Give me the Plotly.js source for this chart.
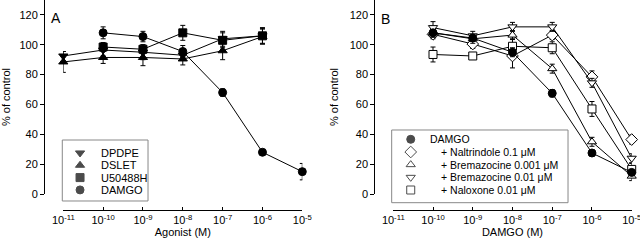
<!DOCTYPE html>
<html>
<head>
<meta charset="utf-8">
<script src="https://cdn.plot.ly/plotly-3.0.1.min.js"></script>
<style>html,body{margin:0;padding:0;background:#fff}#chart{width:640px;height:246px}</style>
</head>
<body>
<div id="chart"></div>
<script>
// ---- Data ----
const tickVals = [1e-11, 1e-10, 1e-9, 1e-8, 1e-7, 1e-6, 1e-5];
const tickText = ['10<sup>-11</sup>', '10<sup>-10</sup>', '10<sup>-9</sup>', '10<sup>-8</sup>', '10<sup>-7</sup>', '10<sup>-6</sup>', '10<sup>-5</sup>'];
const yTicks = [0, 20, 40, 60, 80, 100, 120];

// Panel A
const aNames = ['DPDPE', 'DSLET', 'U50488H', 'DAMGO'];
const aSymbols = ['triangle-down', 'triangle-up', 'square', 'circle'];
const dpdpeX = [1e-11, 1e-10, 1e-9, 1e-8, 1e-7, 1e-6];
const dpdpeY = [92.5, 96.5, 95, 93, 104, 106];
const dpdpeE = [3, 4, 5, 3, 5, 5];
const dsletX = [1e-11, 1e-10, 1e-9, 1e-8, 1e-7, 1e-6];
const dsletY = [88.5, 91.5, 91.5, 90.5, 96, 105.5];
const dsletE = [7, 4, 5.5, 4, 6, 5];
const u50X = [1e-10, 1e-9, 1e-8, 1e-7, 1e-6];
const u50Y = [98.5, 97, 108, 103, 106];
const u50E = [3, 3, 5, 5, 5.5];
const damgoAX = [1e-10, 1e-9, 1e-8, 1e-7, 1e-6, 1e-5];
const damgoAY = [108, 105.5, 95.5, 68, 28, 15];
const damgoAE = [4, 3.5, 4, 2.5, 1.5, 5.5];

// Panel B
const bNames = ['DAMGO', '+ Naltrindole 0.1 μM', '+ Bremazocine 0.001 μM', '+ Bremazocine 0.01 μM', '+ Naloxone 0.01 μM'];
const bSymbols = ['circle', 'diamond', 'triangle-up', 'triangle-down', 'square'];
const bFilled = [true, false, false, false, false];
const bX = [1e-10, 1e-9, 1e-8, 1e-7, 1e-6, 1e-5];
const damgoBY = [108, 104.5, 95, 67.5, 27.5, 14.5];
const damgoBE = [2, 2, 3, 2.5, 2, 2];
const naltY = [107, 100.5, 92.5, 106.5, 78.5, 36.5];
const naltE = [3, 3, 8, 3, 4, 3];
const brem001Y = [108, 104, 106.5, 84, 35, 12];
const brem001E = [3, 3, 3, 3, 3, 3];
const brem01Y = [111.5, 106, 112, 112, 74.5, 24];
const brem01E = [4, 3, 3, 3, 3, 3];
const naloxY = [93.5, 92.5, 99, 98, 57, 16.5];
const naloxE = [5, 2, 5, 4, 5, 4];

// ---- Traces ----
function series(x, y, e, sym, filled, xa, ya, name) {
  return {
    type: 'scatter', mode: 'lines+markers', name: name,
    x: x, y: y, xaxis: xa, yaxis: ya, cliponaxis: false, showlegend: false,
    line: {color: '#000', width: 1},
    marker: {symbol: sym, size: sym === 'diamond' ? 9 : 8, color: filled ? '#000' : '#fff',
             line: {color: '#000', width: 1}},
    error_y: {type: 'data', array: e, visible: true, color: '#000', thickness: 1, width: 2.5}
  };
}

const traces = [
  series(dpdpeX, dpdpeY, dpdpeE, aSymbols[0], true, 'x', 'y', aNames[0]),
  series(dsletX, dsletY, dsletE, aSymbols[1], true, 'x', 'y', aNames[1]),
  series(u50X, u50Y, u50E, aSymbols[2], true, 'x', 'y', aNames[2]),
  series(damgoAX, damgoAY, damgoAE, aSymbols[3], true, 'x', 'y', aNames[3]),
  series(bX, naltY, naltE, bSymbols[1], bFilled[1], 'x2', 'y2', bNames[1]),
  series(bX, brem001Y, brem001E, bSymbols[2], bFilled[2], 'x2', 'y2', bNames[2]),
  series(bX, brem01Y, brem01E, bSymbols[3], bFilled[3], 'x2', 'y2', bNames[3]),
  series(bX, naloxY, naloxE, bSymbols[4], bFilled[4], 'x2', 'y2', bNames[4]),
  series(bX, damgoBY, damgoBE, bSymbols[0], bFilled[0], 'x2', 'y2', bNames[0])
];

// Legend keys drawn on helper axes (one row per series)
function legendKeys(names, syms, filled, xa, ya, mx) {
  return {
    type: 'scatter', mode: 'markers', xaxis: xa, yaxis: ya, showlegend: false, hoverinfo: 'skip',
    x: names.map(() => mx), y: names.map((n, i) => i), cliponaxis: false,
    marker: {symbol: syms, size: syms.map(s => s === 'diamond' ? 9 : 8),
             color: filled.map(f => f ? '#000' : '#fff'),
             line: {color: '#000', width: 1}}
  };
}
traces.push(legendKeys(aNames, aSymbols, aNames.map(() => true), 'x3', 'y3', 0.207));
traces.push(legendKeys(bNames, bSymbols, bFilled, 'x4', 'y4', 0.108));

const legendFontA = {family: 'Liberation Sans, Arial, sans-serif', size: 11, color: '#000'};
const legendFontB = {family: 'Liberation Sans, Arial, sans-serif', size: 10.5, color: '#000'};
const annotations = [];
aNames.forEach((n, i) => annotations.push({xref: 'x3', yref: 'y3', x: 0.425, y: i, text: n, showarrow: false,
  xanchor: 'left', yanchor: 'middle', font: legendFontA}));
bNames.forEach((n, i) => annotations.push({xref: 'x4', yref: 'y4', x: i === 0 ? 0.2076 : 0.268, y: i, text: n,
  showarrow: false, xanchor: 'left', yanchor: 'middle', font: legendFontB}));
annotations.push({xref: 'paper', yref: 'paper', x: 0.008, y: 0.962, text: 'A', showarrow: false,
  xanchor: 'left', yanchor: 'top', font: {family: 'Liberation Sans, Arial, sans-serif', size: 14, color: '#000'}});
annotations.push({xref: 'paper', yref: 'paper', x: 0.569, y: 0.957, text: 'B', showarrow: false,
  xanchor: 'left', yanchor: 'top', font: {family: 'Liberation Sans, Arial, sans-serif', size: 14, color: '#000'}});

const tickFont = {family: 'Liberation Sans, Arial, sans-serif', size: 11, color: '#000'};
const titleFont = {family: 'Liberation Sans, Arial, sans-serif', size: 11, color: '#000'};

function xAxis(domain, title) {
  return {type: 'log', range: [-11, -5], autorange: false, domain: domain, anchor: 'free', position: 0,
    showline: true, linecolor: '#000', linewidth: 1, ticks: 'inside', ticklen: 3, tickcolor: '#000',
    tickvals: tickVals, ticktext: tickText, tickfont: tickFont, showgrid: false, zeroline: false,
    ticklabeloverflow: 'allow',
    title: {text: title, font: titleFont, standoff: 3}};
}
function yAxis(pos) {
  return {range: [0, 130], autorange: false, domain: [0.076, 1], anchor: 'free', position: pos,
    showline: true, linecolor: '#000', linewidth: 1, ticks: 'outside', ticklen: 4, tickcolor: '#000',
    tickvals: yTicks, tickfont: tickFont, showgrid: false, zeroline: false,
    title: {text: '% of control', font: titleFont, standoff: 7}};
}
function helperAxis(domain, range) {
  return {domain: domain, range: range, autorange: false, visible: false, showgrid: false, zeroline: false, fixedrange: true};
}

const layout = {
  width: 640, height: 246,
  margin: {l: 44, r: 8, t: 0, b: 36, pad: 0},
  paper_bgcolor: '#fff', plot_bgcolor: 'rgba(0,0,0,0)',
  font: {family: 'Liberation Sans, Arial, sans-serif', color: '#000'},
  showlegend: false,
  xaxis: xAxis([0.0328, 0.4393], 'Agonist (M)'),
  yaxis: yAxis(0),
  xaxis2: xAxis([0.594, 0.9995], 'DAMGO (M)'),
  yaxis2: yAxis(0.5617),
  xaxis3: helperAxis([0.0311, 0.1769], [0, 1]),
  yaxis3: helperAxis([0.0429, 0.3333], [3.9, -1.05]),
  xaxis4: helperAxis([0.5913, 0.8912], [0, 1]),
  yaxis4: helperAxis([0.0348, 0.381], [5.0, -0.734]),
  shapes: [
    {type: 'rect', xref: 'x3 domain', yref: 'y3 domain', x0: 0, x1: 1, y0: 0, y1: 1, line: {color: '#888', width: 1}},
    {type: 'rect', xref: 'x4 domain', yref: 'y4 domain', x0: 0, x1: 1, y0: 0, y1: 1, line: {color: '#888', width: 1}}
  ],
  annotations: annotations
};

Plotly.newPlot('chart', traces, layout, {staticPlot: true, displayModeBar: false});
</script>
</body>
</html>
